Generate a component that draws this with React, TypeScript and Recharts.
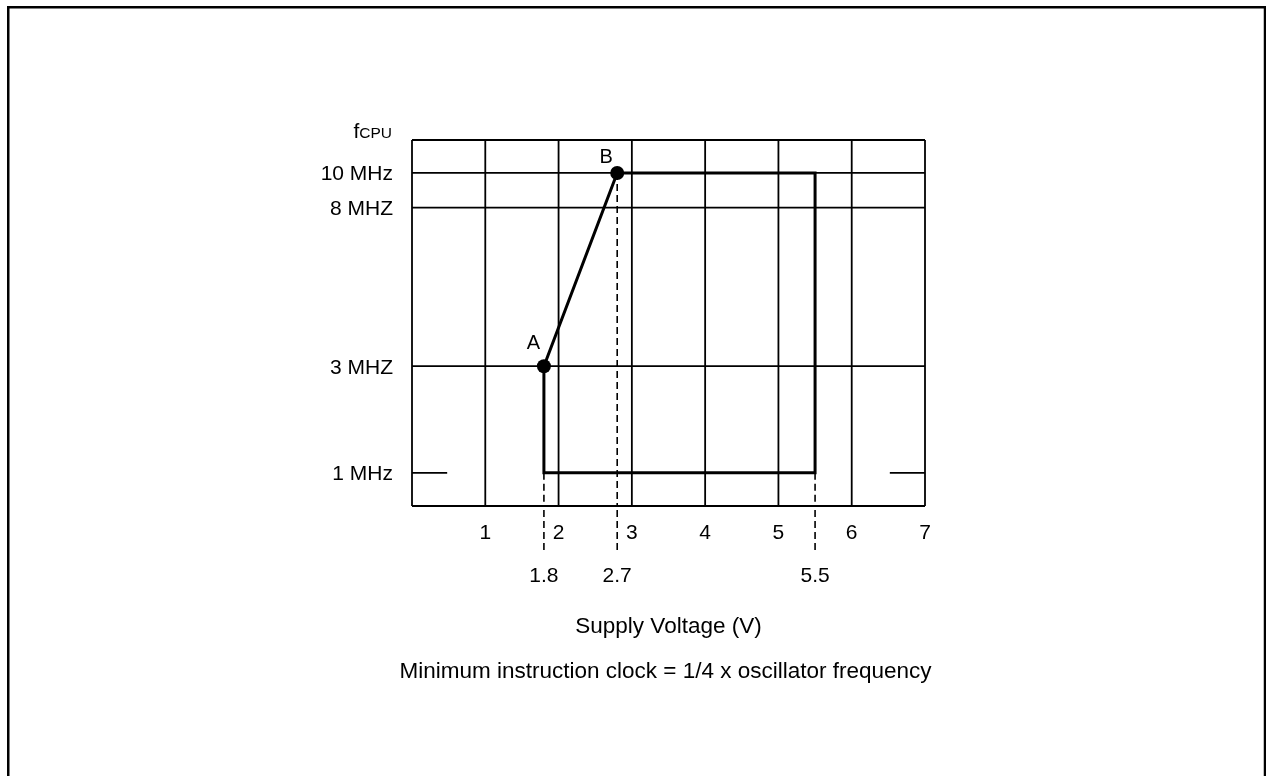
import { ComposedChart, Line, Scatter, XAxis, YAxis, CartesianGrid, ReferenceLine } from 'recharts'

// operating region outline (V, MHz)
const regionVolts = [1.8, 2.7, 5.5, 5.5, 1.8, 1.8]
const regionFreqs = [3, 10, 10, 1, 1, 3]

// marked corner points
const pointNames = ['A', 'B']
const pointVolts = [1.8, 2.7]
const pointFreqs = [3, 10]

// dashed guides dropping to the voltage axis
const guideVolts = [1.8, 2.7, 5.5]
const guideFromFreqs = [1, 10, 1]

const voltTicks = [1, 2, 3, 4, 5, 6, 7]
const markTicks = [1.8, 2.7, 5.5]
const freqTicks = [1, 3, 8, 10]
const freqLabels = ['1 MHz', '3 MHZ', '8 MHZ', '10 MHz']
const gridFreqs = [3, 8, 10, 12]

// both axes in the original are drawn schematically, not strictly to scale
const yKnots = [0, 1, 3, 8, 10, 12]
const yFracs = [0, 0.0907, 0.382, 0.815, 0.91, 1]
const xKnots = [0, 2, 2.7, 3, 7]
const xFracs = [0, 2 / 7, 2.8 / 7, 3 / 7, 1]

function schematicScale(knots: number[], fracs: number[]): any {
  let dom = [knots[0], knots[knots.length - 1]]
  let rng = [0, 1]
  const toFrac = (v: number) => {
    const n = knots.length
    let i = 1
    while (i < n - 1 && v > knots[i]) i++
    const t = (v - knots[i - 1]) / (knots[i] - knots[i - 1])
    return fracs[i - 1] + t * (fracs[i] - fracs[i - 1])
  }
  const scale: any = (v: number) => {
    const a = toFrac(dom[0])
    const b = toFrac(dom[1])
    const t = (toFrac(Number(v)) - a) / (b - a)
    return rng[0] + t * (rng[1] - rng[0])
  }
  scale.domain = (d?: any) => {
    if (d === undefined) return dom.slice()
    dom = Array.from(d as number[]).map(Number)
    return scale
  }
  scale.range = (r?: any) => {
    if (r === undefined) return rng.slice()
    rng = Array.from(r as number[]).map(Number)
    return scale
  }
  scale.copy = () => schematicScale(knots, fracs).domain(dom).range(rng)
  scale.ticks = () => knots.slice()
  scale.tickFormat = () => (v: any) => String(v)
  return scale
}

const font = '"Liberation Sans", Arial, sans-serif'
const ink = '#000'

const regionData = regionVolts.map((v, i) => ({ v, f: regionFreqs[i] }))
const pointData = pointNames.map((name, i) => ({ name, v: pointVolts[i], f: pointFreqs[i] }))
const guides = guideVolts.map((v, i) => [{ v, f: guideFromFreqs[i] }, { v, f: 0 }])

const labelShift: Record<string, [number, number]> = { A: [-10.5, -17], B: [-11, -10] }

function PointShape(props: any) {
  const { cx, cy, payload } = props
  const [dx, dy] = labelShift[payload.name] || [0, -12]
  return (
    <g>
      <circle cx={cx} cy={cy} r={7} fill={ink} />
      <text x={cx + dx} y={cy + dy} textAnchor="middle" fontSize={20} fontFamily={font} fill={ink}>
        {payload.name}
      </text>
    </g>
  )
}

function FreqTitle(props: any) {
  const vb = props.viewBox
  return (
    <text x={vb.x + vb.width - 20} y={vb.y - 2} textAnchor="end" fontFamily={font} fill={ink}>
      <tspan fontSize={21}>f</tspan>
      <tspan fontSize={15.5}>CPU</tspan>
    </text>
  )
}

function BottomTitles(props: any) {
  const vb = props.viewBox
  const cx = vb.x + vb.width / 2
  return (
    <g fontFamily={font} fill={ink} fontSize={22.5}>
      <text x={cx} y={vb.y + 126} textAnchor="middle">Supply Voltage (V)</text>
      <text x={cx - 3} y={vb.y + 171} textAnchor="middle">Minimum instruction clock = 1/4 x oscillator frequency</text>
    </g>
  )
}

export default function App() {
  const tickStyle = { fill: ink, fontSize: 21, fontFamily: font }
  return (
    <div style={{ position: 'relative', width: 1250, height: 760, fontFamily: font }}>
      <svg width={1266} height={776} style={{ position: 'fixed', left: 0, top: 0, pointerEvents: 'none' }}>
        <path d="M8.25 776 V7.25 H1265 V776" stroke={ink} strokeWidth={2.5} fill="none" />
      </svg>
      <div style={{ position: 'absolute', left: 2, top: 2 }}>
        <ComposedChart width={1246} height={750} margin={{ top: 130, right: 331, bottom: 63, left: 322 }}>
          <CartesianGrid
            stroke={ink}
            strokeWidth={1.8}
            verticalValues={voltTicks}
            horizontalValues={gridFreqs}
          />
          <XAxis
            type="number"
            dataKey="v"
            domain={[0, 7]}
            scale={schematicScale(xKnots, xFracs)}
            ticks={voltTicks}
            height={1}
            tickLine={false}
            tickSize={0}
            tickMargin={18}
            interval={0}
            axisLine={{ stroke: ink, strokeWidth: 1.8 }}
            tick={tickStyle}
          />
          <XAxis
            xAxisId="marks"
            type="number"
            dataKey="v"
            domain={[0, 7]}
            scale={schematicScale(xKnots, xFracs)}
            ticks={markTicks}
            height={190}
            interval={0}
            axisLine={false}
            tickSize={43}
            tickMargin={17}
            tickLine={{ stroke: ink, strokeWidth: 1.6, strokeDasharray: '7 4' }}
            tick={tickStyle}
            label={{ content: BottomTitles }}
          />
          <YAxis
            type="number"
            dataKey="f"
            domain={[0, 12]}
            scale={schematicScale(yKnots, yFracs)}
            ticks={freqTicks}
            interval={0}
            tickFormatter={(v: number) => freqLabels[freqTicks.indexOf(v)]}
            width={80}
            tickLine={false}
            tickSize={0}
            tickMargin={19}
            axisLine={{ stroke: ink, strokeWidth: 1.8 }}
            tick={tickStyle}
            label={{ content: FreqTitle }}
          />
          <ReferenceLine segment={[{ x: 0, y: 1 }, { x: 0.48, y: 1 }]} stroke={ink} strokeWidth={1.8} />
          <ReferenceLine segment={[{ x: 6.52, y: 1 }, { x: 7, y: 1 }]} stroke={ink} strokeWidth={1.8} />
          {guides.map((g, i) => (
            <Line
              key={i}
              xAxisId="marks"
              data={g}
              dataKey="f"
              stroke={ink}
              strokeWidth={1.6}
              strokeDasharray="7 4"
              dot={false}
              activeDot={false}
              isAnimationActive={false}
            />
          ))}
          <Line
            data={regionData}
            dataKey="f"
            type="linear"
            stroke={ink}
            strokeWidth={3}
            dot={false}
            activeDot={false}
            isAnimationActive={false}
          />
          <Scatter data={pointData} dataKey="f" shape={PointShape} isAnimationActive={false} />
        </ComposedChart>
      </div>
    </div>
  )
}
